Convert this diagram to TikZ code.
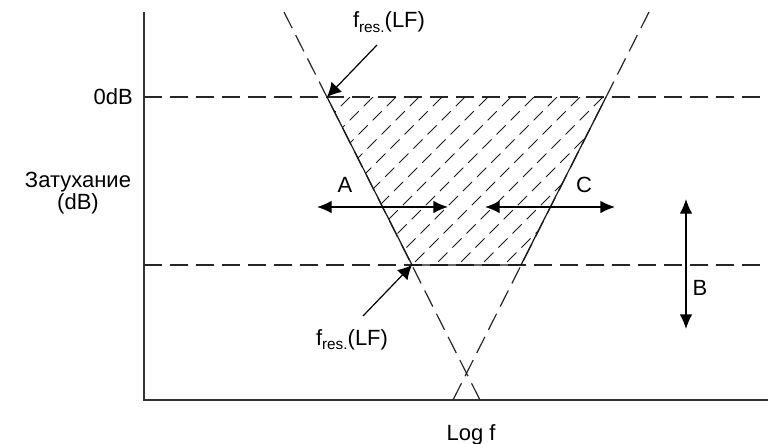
\documentclass[tikz,border=0pt]{standalone}
\usepackage{fontspec}
\setmainfont{Liberation Sans}
\usetikzlibrary{arrows.meta}
\newcommand{\fresLF}{f\raisebox{-3.5pt}{\fontsize{11.5}{11.5}\selectfont res.}(LF)}
\tikzset{
  axisline/.style={line width=1.1pt, draw=black!80},
  guideline/.style={line width=0.9pt, draw=black!85, dash pattern=on 13.5pt off 6pt},
  edgeline/.style={line width=0.9pt, draw=black!90},
  hatchline/.style={line width=0.7pt, draw=black!90, dash pattern=on 9.75pt off 5.25pt},
  dblarrow/.style={{Latex[length=11pt,width=9.5pt]}-{Latex[length=11pt,width=9.5pt]}, line width=1pt},
  ptarrow/.style={-{Latex[length=10.5pt,width=11pt]}, line width=0.9pt},
  lbl/.style={inner sep=0pt, font=\fontsize{16.5}{17}\selectfont}
}
\begin{document}
\begin{tikzpicture}[x=0.75pt,y=-0.75pt]
\useasboundingbox (0,0) rectangle (768,443);
% axes
\coordinate (o) at (144,400);
\coordinate (ytop) at (144,12);
\coordinate (xend) at (768,400);
\draw[axisline] (ytop) -- (o) -- (xend);
% levels
\coordinate (zero-l) at (144,97);
\coordinate (zero-r) at (768,97);
\coordinate (low-l) at (144,265);
\coordinate (low-r) at (768,265);
\draw[guideline] (zero-l) -- (zero-r);
\draw[guideline] (low-l) -- (low-r);
% slopes
\coordinate (lf-top) at (284,12);
\coordinate (lf-bot) at (480,400);
\coordinate (hf-top) at (649,12);
\coordinate (hf-bot) at (453,400);
\draw[guideline] (lf-top) -- (lf-bot);
\draw[guideline] (hf-top) -- (hf-bot);
% passband
\coordinate (tl) at (327,97);
\coordinate (tr) at (606,97);
\coordinate (br) at (521,265);
\coordinate (bl) at (412,265);
\begin{scope}
  \clip (tl) -- (tr) -- (br) -- (bl) -- cycle;
  \foreach \c in {447,470,...,769}
    \draw[hatchline] (\c-97,97) -- (\c-347,347);
\end{scope}
\draw[edgeline] (tl) -- (bl) -- (br) -- (tr);
% shifts
\coordinate (a-l) at (317,207);
\coordinate (a-r) at (448,207);
\coordinate (c-l) at (485,207);
\coordinate (c-r) at (615,207);
\coordinate (b-t) at (686,199);
\coordinate (b-b) at (686,329);
\draw[dblarrow] (a-l) -- (a-r);
\draw[dblarrow] (c-l) -- (c-r);
\draw[dblarrow] (b-t) -- (b-b);
% labels
\node[lbl, anchor=base] (lblA) at (345,192) {A};
\node[lbl, anchor=base] (lblC) at (584,192) {C};
\node[lbl, anchor=base] (lblB) at (700,295) {B};
\node[lbl, anchor=base east] (zerodb) at (133,104) {0dB};
\node[lbl, align=center] (ylabel) at (78,193) {Затухание\\(dB)};
\node[lbl, anchor=base] (xlabel) at (471,440) {Log f};
\node[lbl, anchor=base] (fres-hi) at (389,27.5) {\fresLF};
\node[lbl, anchor=base] (fres-lo) at (352,345) {\fresLF};
\coordinate (fres-hi-from) at (377,45);
\coordinate (fres-lo-from) at (363,316);
\draw[ptarrow] (fres-hi-from) -- (tl);
\draw[ptarrow] (fres-lo-from) -- (bl);
\end{tikzpicture}
\end{document}
